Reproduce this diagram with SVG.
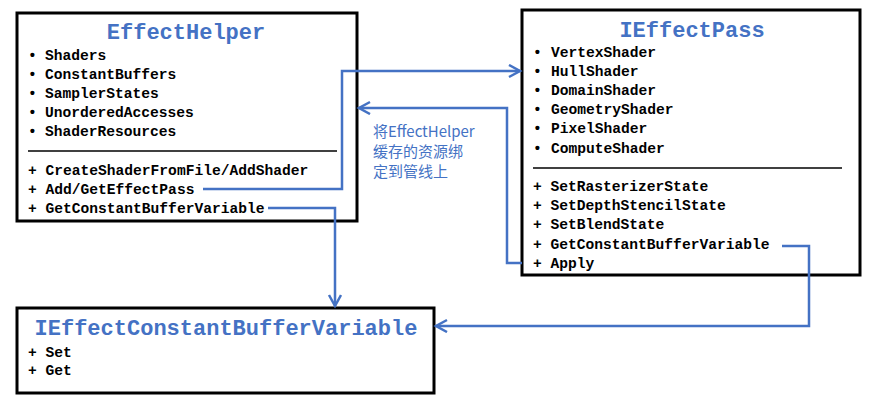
<svg xmlns="http://www.w3.org/2000/svg" width="876" height="408" viewBox="0 0 876 408">
<defs>
<style>
.box{fill:#fff;stroke:#000;stroke-width:3}
.title{font-family:"Liberation Mono","DejaVu Sans Mono",monospace;font-weight:bold;font-size:22px;fill:#4472C4;text-anchor:middle}
.t{font-family:"Liberation Mono","DejaVu Sans Mono",monospace;font-weight:bold;font-size:14.6px;fill:#000}
.sep{stroke:#000;stroke-width:1.5}
.conn{fill:none;stroke:#4472C4;stroke-width:2.5}
.note{font-family:"Noto Sans CJK SC","Noto Sans",sans-serif;font-size:15px;fill:#4472C4}
</style>
<marker id="arr" markerUnits="userSpaceOnUse" markerWidth="16" markerHeight="16" refX="12" refY="7" orient="auto">
<path d="M1,1 L12,7 L1,13" fill="none" stroke="#4472C4" stroke-width="2.5"/>
</marker>
</defs>
<rect width="876" height="408" fill="#fff"/>
<g id="EffectHelper">
<rect class="box" x="17" y="13" width="340" height="208"/>
<text class="title" x="186" y="39">EffectHelper</text>
<text class="t" x="28" y="60">•</text><text class="t" x="45" y="60">Shaders</text>
<text class="t" x="28" y="79">•</text><text class="t" x="45" y="79">ConstantBuffers</text>
<text class="t" x="28" y="98">•</text><text class="t" x="45" y="98">SamplerStates</text>
<text class="t" x="28" y="117">•</text><text class="t" x="45" y="117">UnorderedAccesses</text>
<text class="t" x="28" y="136">•</text><text class="t" x="45" y="136">ShaderResources</text>
<line class="sep" x1="28" y1="151" x2="337" y2="151"/>
<text class="t" x="28" y="175">+ CreateShaderFromFile/AddShader</text>
<text class="t" x="28" y="194">+ Add/GetEffectPass</text>
<text class="t" x="28" y="213">+ GetConstantBufferVariable</text>
</g>
<g id="IEffectPass">
<rect class="box" x="522" y="10" width="338" height="265"/>
<text class="title" x="692" y="37">IEffectPass</text>
<text class="t" x="533" y="57">•</text><text class="t" x="551" y="57">VertexShader</text>
<text class="t" x="533" y="76">•</text><text class="t" x="551" y="76">HullShader</text>
<text class="t" x="533" y="95">•</text><text class="t" x="551" y="95">DomainShader</text>
<text class="t" x="533" y="114">•</text><text class="t" x="551" y="114">GeometryShader</text>
<text class="t" x="533" y="133">•</text><text class="t" x="551" y="133">PixelShader</text>
<text class="t" x="533" y="153">•</text><text class="t" x="551" y="153">ComputeShader</text>
<line class="sep" x1="533" y1="168" x2="842" y2="168"/>
<text class="t" x="533" y="191">+ SetRasterizerState</text>
<text class="t" x="533" y="210">+ SetDepthStencilState</text>
<text class="t" x="533" y="229">+ SetBlendState</text>
<text class="t" x="533" y="249">+ GetConstantBufferVariable</text>
<text class="t" x="533" y="268">+ Apply</text>
</g>
<g id="IEffectConstantBufferVariable">
<rect class="box" x="17" y="308" width="417" height="85"/>
<text class="title" x="226" y="335">IEffectConstantBufferVariable</text>
<text class="t" x="28" y="357">+ Set</text>
<text class="t" x="28" y="375">+ Get</text>
</g>
<g id="note">
<text class="note" x="373" y="137">将EffectHelper</text>
<text class="note" x="373" y="157">缓存的资源绑</text>
<text class="note" x="373" y="177">定到管线上</text>
</g>
<g id="connectors">
<polyline class="conn" points="203,189 342,189 342,71 520,71" marker-end="url(#arr)"/>
<polyline class="conn" points="522,263 507,263 507,108 359,108" marker-end="url(#arr)"/>
<polyline class="conn" points="268,208 335,208 335,306" marker-end="url(#arr)"/>
<polyline class="conn" points="782,246 809,246 809,326 436,326" marker-end="url(#arr)"/>
</g>
</svg>
